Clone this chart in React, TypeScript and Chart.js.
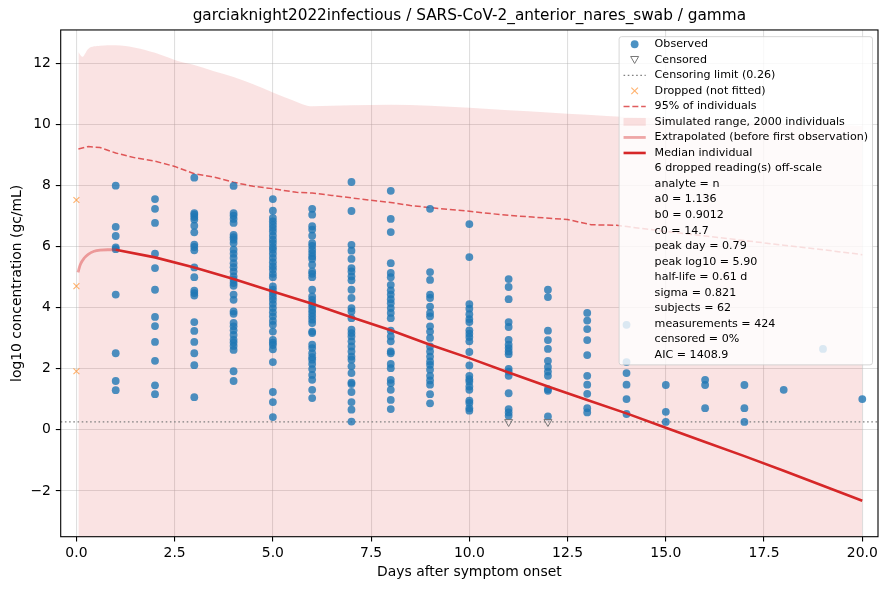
import { useEffect, useRef } from "react";
import { Chart, registerables } from "chart.js";

Chart.register(...registerables);

const FONT = "DejaVu Sans";

const titleText = "garciaknight2022infectious / SARS-CoV-2_anterior_nares_swab / gamma";
const xTitle = "Days after symptom onset";
const yTitle = "log10 concentration (gc/mL)";

const xTicks = [0, 2.5, 5, 7.5, 10, 12.5, 15, 17.5, 20];
const yTicks = [-2, 0, 2, 4, 6, 8, 10, 12];

// observed log10 values, one list per sampling day
const observedDays = [1, 2, 3, 4, 5, 6, 7, 8, 9, 10, 11, 12, 13, 14, 15, 16, 17, 18, 19, 20];
const observedLog10: number[][] = [
  [8.0, 6.65, 6.35, 5.98, 5.92, 4.43, 2.51, 1.6, 1.3],
  [7.56, 7.24, 6.78, 5.77, 5.3, 4.59, 3.7, 3.4, 2.88, 2.26, 1.46, 1.17],
  [8.26, 7.1, 7.05, 6.97, 6.89, 6.69, 6.47, 6.07, 5.99, 5.88, 5.32, 5.0, 4.56, 4.48, 4.4, 3.53, 3.24, 2.88, 2.51, 2.12, 1.07],
  [7.99, 7.1, 7.02, 6.91, 6.78, 6.39, 6.31, 6.23, 6.12, 5.9, 5.77, 5.63, 5.46, 5.33, 5.19, 5.03, 4.92, 4.81, 4.72, 4.43, 4.26, 3.88, 3.8, 3.5, 3.39, 3.26, 3.11, 2.95, 2.86, 2.75, 2.62, 1.92, 1.6],
  [7.56, 7.18, 6.94, 6.83, 6.72, 6.61, 6.5, 6.36, 6.23, 6.12, 5.99, 5.9, 5.77, 5.63, 5.49, 5.36, 5.25, 5.11, 5.0, 4.7, 4.59, 4.48, 4.37, 4.26, 4.13, 3.99, 3.85, 3.72, 3.57, 3.44, 3.22, 2.95, 2.86, 2.78, 2.64, 2.22, 1.24, 0.91, 0.42],
  [7.24, 7.05, 6.67, 6.56, 6.36, 6.12, 6.03, 5.9, 5.79, 5.68, 5.6, 5.41, 5.19, 5.11, 5.0, 4.59, 4.37, 4.26, 4.15, 4.04, 3.93, 3.83, 3.72, 3.61, 3.5, 3.22, 3.17, 2.79, 2.68, 2.51, 2.38, 2.3, 2.16, 1.99, 1.8, 1.64, 1.31, 1.04],
  [8.12, 7.17, 6.06, 5.87, 5.6, 5.3, 5.19, 5.03, 4.9, 4.59, 4.32, 3.99, 3.88, 3.66, 3.28, 3.17, 3.06, 2.9, 2.73, 2.57, 2.4, 2.3, 2.08, 1.86, 1.55, 1.5, 1.24, 0.91, 0.66, 0.27],
  [7.83, 6.91, 6.48, 5.46, 5.14, 5.0, 4.75, 4.57, 4.43, 4.28, 4.15, 3.99, 3.83, 3.66, 3.25, 3.06, 2.9, 2.57, 2.51, 2.16, 2.02, 1.64, 1.53, 1.31, 0.98, 0.68],
  [7.24, 5.17, 4.91, 4.43, 4.32, 4.04, 3.83, 3.72, 3.39, 3.22, 3.01, 2.73, 2.57, 2.4, 2.24, 2.13, 1.97, 1.77, 1.62, 1.48, 1.17, 0.87],
  [6.74, 5.66, 4.12, 3.97, 3.79, 3.63, 3.53, 3.26, 3.15, 3.04, 2.9, 2.55, 2.11, 1.77, 1.66, 1.58, 1.42, 1.31, 0.96, 0.88, 0.71, 0.63],
  [4.94, 4.68, 4.28, 3.53, 3.37, 2.95, 2.79, 2.68, 2.57, 2.48, 2.0, 1.91, 1.77, 1.2, 0.68, 0.57, 0.46],
  [4.59, 4.35, 3.25, 2.94, 2.65, 2.26, 2.06, 1.91, 1.77, 1.33, 1.28, 0.44],
  [3.83, 3.58, 3.3, 2.94, 2.45, 1.77, 1.48, 1.18, 0.71, 0.57],
  [3.44, 2.22, 1.86, 1.48, 1.01, 0.52],
  [1.47, 0.59, 0.26],
  [1.64, 1.47, 0.71],
  [1.47, 0.71, 0.26],
  [1.31],
  [2.65],
  [1.01],
];

const censoredDays = [11, 12];
const censoredLog10 = [0.26, 0.26];
const censorLimit = 0.26;

const droppedDays = [0, 0, 0];
const droppedLog10 = [7.53, 4.71, 1.92];

const medianDays = [1, 2, 3, 4, 5, 6, 7, 8, 9, 10, 11, 12, 13, 14, 15, 16, 17, 18, 19, 20];
const medianLog10 = [5.9, 5.65, 5.32, 4.94, 4.53, 4.13, 3.69, 3.26, 2.79, 2.35, 1.88, 1.42, 0.98, 0.54, 0.07, -0.4, -0.86, -1.34, -1.83, -2.32];

const extrapDays = [0.04, 0.1, 0.2, 0.3, 0.45, 0.6, 0.79, 1.0];
const extrapLog10 = [5.16, 5.42, 5.63, 5.75, 5.85, 5.89, 5.9, 5.9];

const upper95Days = [0.05, 0.3, 0.6, 1, 1.5, 2, 2.5, 3, 3.5, 4, 4.5, 5, 5.6, 6, 6.5, 7, 7.5, 8, 8.5, 9, 9.5, 10, 10.8, 11.6, 12.5, 13.1, 13.75, 15, 16, 17, 18, 19, 20];
const upper95Log10 = [9.2, 9.28, 9.25, 9.07, 8.91, 8.8, 8.63, 8.39, 8.28, 8.11, 7.98, 7.9, 7.78, 7.76, 7.68, 7.6, 7.52, 7.45, 7.35, 7.28, 7.22, 7.16, 7.05, 6.97, 6.89, 6.72, 6.7, 6.5, 6.35, 6.2, 6.05, 5.9, 5.74];

const rangeDays = [0.05, 0.15, 0.3, 0.6, 1, 1.5, 2, 2.5, 3, 3.5, 4, 4.5, 5, 5.5, 6, 7, 8, 9, 10, 11, 12, 13, 14, 16, 18, 20];
const rangeTopLog10 = [12.38, 12.22, 12.48, 12.58, 12.6, 12.52, 12.35, 12.12, 11.95, 11.75, 11.56, 11.32, 11.05, 10.8, 10.6, 10.63, 10.65, 10.62, 10.55, 10.47, 10.4, 10.32, 10.25, 10.15, 10.05, 9.95];

const legendLabels = [
  "Observed",
  "Censored",
  "Censoring limit (0.26)",
  "Dropped (not fitted)",
  "95% of individuals",
  "Simulated range, 2000 individuals",
  "Extrapolated (before first observation)",
  "Median individual",
];
const statLines = [
  "6 dropped reading(s) off-scale",
  "analyte = n",
  "a0 = 1.136",
  "b0 = 0.9012",
  "c0 = 14.7",
  "peak day = 0.79",
  "peak log10 = 5.90",
  "half-life = 0.61 d",
  "sigma = 0.821",
  "subjects = 62",
  "measurements = 424",
  "censored = 0%",
  "AIC = 1408.9",
];

const BLUE = "rgba(31,119,180,0.8)";
const RED = "#d62728";
const RED_DASH = "rgba(214,39,40,0.75)";
const RED_LIGHT = "rgba(214,39,40,0.4)";
const BAND = "rgba(214,39,40,0.13)";
const ORANGE = "rgba(255,127,14,0.6)";
const GRAY = "#808080";

const pairs = (xs: number[], ys: number[]) => xs.map((x, i) => ({ x, y: ys[i] }));

// matplotlib-style legend drawn inside the axes, on top of the data
const insideLegend = {
  id: "insideLegend",
  afterDatasetsDraw(chart: any) {
    const { ctx, chartArea } = chart;
    const fs = 11.1;
    const rowH = 15.53;
    const rows = [...legendLabels, ...statLines];
    ctx.save();
    ctx.font = `${fs}px "${FONT}"`;
    const textW = Math.max(...rows.map((r) => ctx.measureText(r).width));
    const pad = 0.4 * fs;
    const handleW = 2 * fs;
    const gap = 0.8 * fs;
    const w = pad + handleW + gap + textW + pad;
    const right = chartArea.right - 5.5;
    const left = right - w;
    const top = chartArea.top + 6.7;
    const h = 7.6 + (rows.length - 1) * rowH + 10;

    ctx.beginPath();
    ctx.roundRect(left, top, w, h, 2.5);
    ctx.fillStyle = "rgba(255,255,255,0.8)";
    ctx.fill();
    ctx.lineWidth = 1;
    ctx.strokeStyle = "rgba(204,204,204,0.8)";
    ctx.stroke();

    const hx0 = left + pad;
    const hx1 = hx0 + handleW;
    const hc = (hx0 + hx1) / 2;
    rows.forEach((label, i) => {
      const y = top + 7.6 + i * rowH;
      ctx.setLineDash([]);
      if (i === 0) {
        ctx.beginPath();
        ctx.arc(hc, y, 3.9, 0, Math.PI * 2);
        ctx.fillStyle = BLUE;
        ctx.fill();
      } else if (i === 1) {
        ctx.beginPath();
        ctx.moveTo(hc - 4, y - 3.3);
        ctx.lineTo(hc + 4, y - 3.3);
        ctx.lineTo(hc, y + 3.7);
        ctx.closePath();
        ctx.strokeStyle = "#777";
        ctx.lineWidth = 1;
        ctx.stroke();
      } else if (i === 2 || i === 4 || i === 6 || i === 7) {
        const style = [
          null, null,
          { c: GRAY, w: 1.3, d: [1.6, 2.6] }, null,
          { c: RED_DASH, w: 1.5, d: [6, 2.8] }, null,
          { c: RED_LIGHT, w: 2.8, d: [] },
          { c: RED, w: 2.6, d: [] },
        ][i]!;
        ctx.beginPath();
        ctx.moveTo(hx0, y);
        ctx.lineTo(hx1, y);
        ctx.strokeStyle = style.c;
        ctx.lineWidth = style.w;
        ctx.setLineDash(style.d);
        ctx.stroke();
        ctx.setLineDash([]);
      } else if (i === 3) {
        ctx.beginPath();
        ctx.moveTo(hc - 3.3, y - 3.3);
        ctx.lineTo(hc + 3.3, y + 3.3);
        ctx.moveTo(hc + 3.3, y - 3.3);
        ctx.lineTo(hc - 3.3, y + 3.3);
        ctx.strokeStyle = ORANGE;
        ctx.lineWidth = 1.1;
        ctx.stroke();
      } else if (i === 5) {
        ctx.fillStyle = BAND;
        ctx.fillRect(hx0, y - 3.9, handleW, 7.8);
      }
      ctx.fillStyle = "#000";
      ctx.textBaseline = "middle";
      ctx.textAlign = "left";
      ctx.fillText(label, hx1 + gap, y);
    });
    ctx.restore();
  },
};

// full box around the axes, like matplotlib spines
const axesFrame = {
  id: "axesFrame",
  afterDraw(chart: any) {
    const { ctx, chartArea } = chart;
    ctx.save();
    ctx.strokeStyle = "#000";
    ctx.lineWidth = 1.1;
    ctx.strokeRect(chartArea.left, chartArea.top, chartArea.right - chartArea.left, chartArea.bottom - chartArea.top);
    ctx.restore();
  },
};

export default function App() {
  const ref = useRef<HTMLCanvasElement | null>(null);

  useEffect(() => {
    if (!ref.current) return;
    const observed = observedDays.flatMap((d, i) => observedLog10[i].map((y) => ({ x: d, y })));
    const font = { family: FONT, size: 13.9 };
    const grid = {
      color: "rgba(176,176,176,0.4)",
      lineWidth: 1.1,
      tickColor: "#000",
      tickLength: 4.9,
      tickWidth: 1.1,
    };

    const chart = new Chart(ref.current, {
      type: "scatter",
      data: {
        datasets: [
          {
            type: "line",
            label: "Median individual",
            data: pairs(medianDays, medianLog10),
            borderColor: RED,
            borderWidth: 2.6,
            pointRadius: 0,
            order: 1,
          },
          {
            type: "line",
            label: "Extrapolated (before first observation)",
            data: pairs(extrapDays, extrapLog10),
            borderColor: RED_LIGHT,
            borderWidth: 2.8,
            pointRadius: 0,
            cubicInterpolationMode: "monotone",
            order: 2,
          },
          {
            label: "Dropped (not fitted)",
            data: pairs(droppedDays, droppedLog10),
            pointStyle: "crossRot",
            radius: 4.2,
            borderColor: ORANGE,
            borderWidth: 1.1,
            order: 3,
          },
          {
            label: "Censored",
            data: pairs(censoredDays, censoredLog10),
            pointStyle: "triangle",
            rotation: 180,
            radius: 4.6,
            backgroundColor: "rgba(0,0,0,0)",
            borderColor: "#777",
            borderWidth: 1,
            order: 4,
          },
          {
            label: "Observed",
            data: observed,
            radius: 3.9,
            backgroundColor: BLUE,
            borderWidth: 0,
            borderColor: "rgba(0,0,0,0)",
            order: 5,
          },
          {
            type: "line",
            label: "Censoring limit (0.26)",
            data: [
              { x: -0.4, y: censorLimit },
              { x: 20.4, y: censorLimit },
            ],
            borderColor: GRAY,
            borderWidth: 1.3,
            borderDash: [1.6, 2.6],
            pointRadius: 0,
            order: 6,
          },
          {
            type: "line",
            label: "95% of individuals",
            data: pairs(upper95Days, upper95Log10),
            borderColor: RED_DASH,
            borderWidth: 1.5,
            borderDash: [6, 2.8],
            pointRadius: 0,
            order: 7,
          },
          {
            type: "line",
            label: "Simulated range, 2000 individuals",
            data: pairs(rangeDays, rangeTopLog10),
            borderColor: "rgba(0,0,0,0)",
            borderWidth: 0,
            backgroundColor: BAND,
            fill: { value: -10 },
            pointRadius: 0,
            cubicInterpolationMode: "monotone",
            order: 10,
          },
        ],
      },
      options: {
        animation: false,
        responsive: false,
        events: [],
        layout: { padding: { left: 0, right: 10, top: 0, bottom: 0 } },
        plugins: {
          legend: { display: false },
          tooltip: { enabled: false },
          title: {
            display: true,
            text: titleText,
            fullSize: false,
            color: "#000",
            font: { family: FONT, size: 15.3, weight: "normal" },
            padding: { top: 7.3, bottom: 4.3 },
          },
        },
        scales: {
          x: {
            type: "linear",
            min: -0.4,
            max: 20.4,
            afterBuildTicks: (s: any) => {
              s.ticks = xTicks.map((value) => ({ value }));
            },
            afterFit: (s: any) => {
              s.height = 53.3;
            },
            ticks: {
              color: "#000",
              font,
              padding: 3.5,
              maxRotation: 0,
              autoSkip: false,
              callback: (v: any) => Number(v).toFixed(1),
            },
            grid,
            border: { display: false },
            title: { display: true, text: xTitle, color: "#000", font, padding: { top: 0, bottom: 9.6 } },
          },
          y: {
            type: "linear",
            min: -3.5,
            max: 13.1,
            afterBuildTicks: (s: any) => {
              s.ticks = yTicks.map((value) => ({ value }));
            },
            afterFit: (s: any) => {
              s.width = 60.7;
            },
            ticks: {
              color: "#000",
              font,
              padding: 4.9,
              autoSkip: false,
              callback: (v: any) => (Number(v) < 0 ? "\u2212" + Math.abs(Number(v)) : String(v)),
            },
            grid,
            border: { display: false },
            title: { display: true, text: yTitle, color: "#000", font, padding: { top: 8.6, bottom: 0 } },
          },
        },
      },
      plugins: [insideLegend, axesFrame],
    } as any);

    return () => chart.destroy();
  }, []);

  return (
    <div style={{ position: "absolute", left: 0, top: 0, width: 888, height: 590, background: "#fff" }}>
      <canvas ref={ref} width={888} height={590} style={{ width: 888, height: 590 }} />
    </div>
  );
}
